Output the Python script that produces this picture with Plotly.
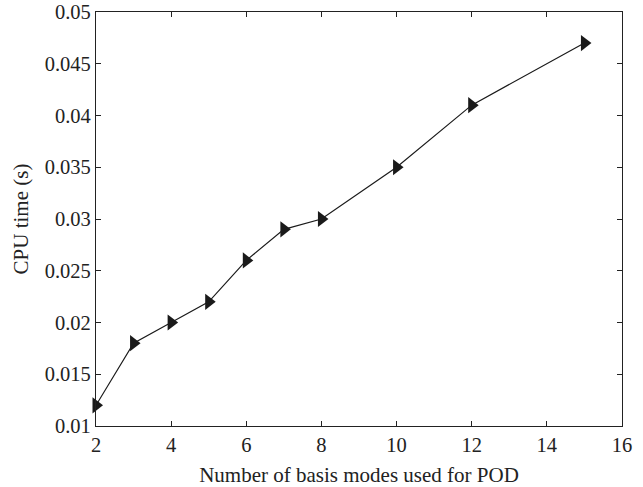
import plotly.graph_objects as go

modes = [2, 3, 4, 5, 6, 7, 8, 10, 12, 15]
cpu_time = [0.012, 0.018, 0.020, 0.022, 0.026, 0.029, 0.030, 0.035, 0.041, 0.047]
x_ticks = [2, 4, 6, 8, 10, 12, 14, 16]
y_ticks = [0.01, 0.015, 0.02, 0.025, 0.03, 0.035, 0.04, 0.045, 0.05]
y_labels = ["0.01", "0.015", "0.02", "0.025", "0.03", "0.035", "0.04", "0.045", "0.05"]

FONT = "Liberation Serif"
fig = go.Figure()
fig.add_trace(go.Scatter(
    x=modes, y=cpu_time, mode="lines+markers",
    line=dict(color="#1a1a1a", width=1.2),
    marker=dict(symbol="triangle-right", size=14, color="#1a1a1a"),
    cliponaxis=False,
))
axis_common = dict(showline=True, linecolor="#222", linewidth=1.2, mirror="ticks",
                   ticks="inside", ticklen=5, tickcolor="#222", showgrid=False,
                   zeroline=False, automargin=False,
                   tickfont=dict(family=FONT, size=20.5, color="#222"))
fig.update_xaxes(range=[2, 16], tickvals=x_ticks,
                 title=dict(text="Number of basis modes used for POD", font=dict(family=FONT, size=21, color="#222"), standoff=12),
                 **axis_common)
fig.update_yaxes(range=[0.01, 0.05], tickvals=y_ticks, ticktext=y_labels,
                 title=dict(text="CPU time (s)", font=dict(family=FONT, size=21, color="#222"), standoff=10),
                 **axis_common)
fig.update_layout(width=643, height=487, margin=dict(l=96, r=21, t=12, b=61),
                  plot_bgcolor="white", paper_bgcolor="white", showlegend=False)
fig.write_html("out.html")
